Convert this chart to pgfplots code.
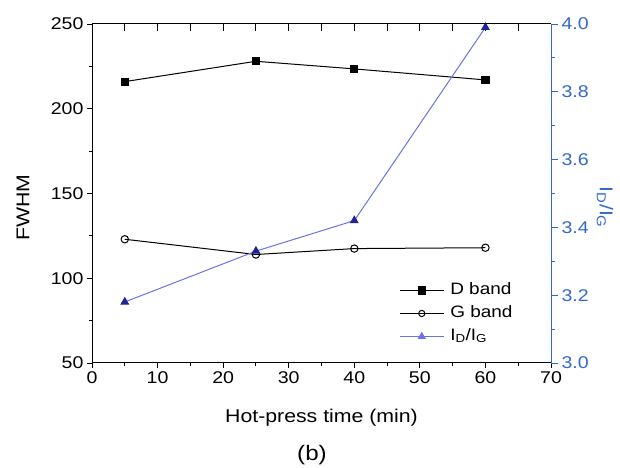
\documentclass[border=0pt]{standalone}
\usepackage{fontspec}
\setmainfont[FakeStretch=1.15]{Liberation Sans}
\usepackage{pgfplots}
\pgfplotsset{compat=1.18}
\definecolor{raxis}{RGB}{50,105,205}
\definecolor{idline}{RGB}{105,115,230}
\definecolor{idmark}{RGB}{30,35,150}
\newcommand{\tfont}{\fontsize{17bp}{20bp}\selectfont}
\newcommand{\lfont}{\fontsize{18.5bp}{22bp}\selectfont}
\begin{document}
\begin{tikzpicture}[x=1bp,y=1bp]
\path[use as bounding box] (0,0) rectangle (620,468);
\begin{axis}[
  at={(92bp,105bp)}, anchor=south west,
  scale only axis, width=459bp, height=339bp,
  xmin=0, xmax=70, ymin=50, ymax=250,
  axis x line*=bottom, axis y line*=left,
  xtick={0,10,...,70}, ytick={50,100,...,250},
  minor x tick num=1, minor y tick num=1,
  tick align=outside,
  major tick length=5bp, minor tick length=3bp,
  tick style={black, line width=0.9bp},
  axis line style={black, line width=1bp},
  /pgf/number format/assume math mode=true,
  ticklabel style={font=\tfont},
  xlabel={Hot-press time (min)}, ylabel={FWHM},
  xlabel style={at={(axis description cs:0.5,0)}, anchor=center, yshift=-55bp, font=\lfont},
  ylabel style={at={(axis description cs:0,0.5)}, anchor=center, yshift=69bp, xshift=-14bp, font=\lfont},
  legend cell align=left,
  legend style={draw=none, fill=none, at={(rel axis cs:0.669,0.146)}, anchor=west,
    inner xsep=0pt, inner ysep=0pt, row sep=6.5bp,
    nodes={text height=12bp, text depth=4.5bp, inner sep=0pt},
    /tikz/every odd column/.append style={column sep=6bp},
    font=\fontsize{16.5bp}{19bp}\selectfont},
]
\addplot[black, line width=1bp, mark=square*, mark size=3.6bp, mark options={solid, fill=black},
  legend image code/.code={\draw (0bp,0bp)--(15bp,0bp) (29bp,0bp)--(44bp,0bp); \path[mark repeat=3, mark phase=2] plot coordinates {(0bp,0bp) (22bp,0bp) (44bp,0bp)};}]
  coordinates {(5,216) (25,228) (40,223.5) (60,217)};
\addlegendentry{D band}
\addplot[black, line width=1bp, mark=o, mark size=3.7bp, mark options={solid, fill=white},
  legend image code/.code={\draw (0bp,0bp)--(16bp,0bp) (28bp,0bp)--(44bp,0bp); \path[mark repeat=3, mark phase=2, mark options={scale=0.85}] plot coordinates {(0bp,0bp) (22bp,0bp) (44bp,0bp)};}]
  coordinates {(5,123) (25,114) (40,117.5) (60,118)};
\addlegendentry{G band}
\addlegendimage{idline, line width=1bp, mark=triangle*, mark size=4.2bp, mark options={solid, draw=idmark, fill=idmark},
  legend image code/.code={\draw[mark repeat=3, mark phase=2, mark options={scale=0.9}] plot coordinates {(0bp,0bp) (22bp,0bp) (44bp,0bp)};}}
\addlegendentry{I\textsubscript{D}/I\textsubscript{G}}
\end{axis}
\begin{axis}[
  at={(92bp,105bp)}, anchor=south west,
  scale only axis, width=459bp, height=339bp,
  xmin=0, xmax=70, ymin=3.0, ymax=4.0,
  axis x line*=top, axis y line*=right,
  xtick={5,10,...,65}, xticklabels={},
  x tick style={black, line width=0.9bp},
  xtick align=inside,
  ytick={3.0,3.2,...,4.01}, minor y tick num=1,
  ytick align=outside,
  major tick length=7bp, minor tick length=4bp,
  y tick style={raxis, line width=0.9bp},
  x axis line style={black, line width=1bp},
  y axis line style={raxis, line width=1bp},
  /pgf/number format/.cd, fixed, fixed zerofill, precision=1, assume math mode=true, /pgfplots/.cd,
  yticklabel style={raxis, font=\tfont},
  ylabel={I\textsubscript{D}/I\textsubscript{G}},
  ylabel style={raxis, rotate=180, at={(axis description cs:1,0.5)}, anchor=center, yshift=54bp, xshift=14bp, font=\lfont},
]
\addplot[idline, line width=1bp, mark=triangle*, mark size=4.2bp, mark options={solid, draw=idmark, fill=idmark}]
  coordinates {(5,3.18) (25,3.33) (40,3.42) (60,3.99)};
\end{axis}
\node at (312,13) {\fontsize{21bp}{25bp}\selectfont (b)};
\end{tikzpicture}
\end{document}
